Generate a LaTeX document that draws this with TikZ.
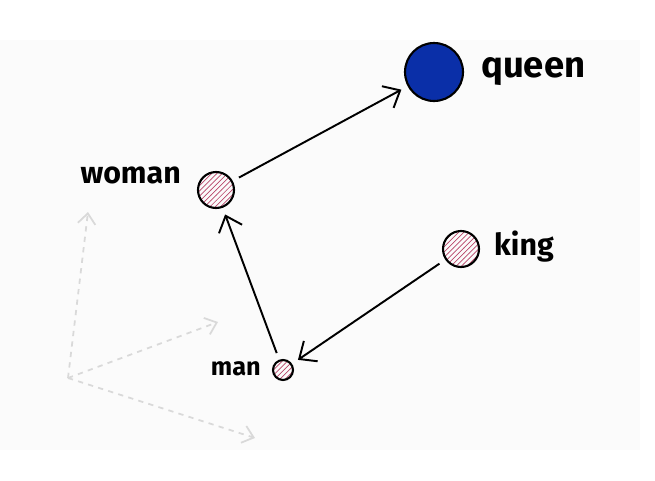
\documentclass[tikz,border=0pt]{standalone}
\usepackage{fontspec}
\setmainfont{Fira Sans}
\usetikzlibrary{arrows.meta,patterns}
\definecolor{hatch}{HTML}{B8466A}
\definecolor{qblue}{HTML}{0A2FA8}
\tikzset{
  word/.style={circle,draw,line width=1.2pt,pattern={north east lines},pattern color=hatch,inner sep=0pt},
  lbl/.style={font=\LARGE\bfseries},
  vec/.style={line width=1.1pt,-{Straight Barb[length=8pt,width=14pt]},shorten <=4pt,shorten >=4pt},
  axis/.style={gray!30,line width=1pt,dashed,-{Straight Barb[length=6pt,width=10pt]}}
}
\begin{document}
\begin{tikzpicture}[x=0.02cm,y=-0.02cm]
  \useasboundingbox (0,0) rectangle (655,480);
  \fill[gray!3] (0,40) rectangle (640,450);
  %% axes
  \coordinate (o) at (68,378);
  \coordinate (ax1) at (88,212);
  \coordinate (ax2) at (218,322);
  \coordinate (ax3) at (255,438);
  \draw[axis] (o) -- (ax1);
  \draw[axis] (o) -- (ax2);
  \draw[axis] (o) -- (ax3);
  %% words
  \node[circle,draw,line width=1.2pt,fill=qblue,minimum size=1.16cm] (queen) at (434,72) {};
  \node[word,minimum size=0.72cm] (woman) at (216,190) {};
  \node[word,minimum size=0.72cm] (king) at (461,249) {};
  \node[word,minimum size=0.4cm] (man) at (283,370) {};
  \node[font=\huge\bfseries,right] at (475,72) {queen};
  \node[lbl,left] at (187,175) {woman};
  \node[lbl,right] at (488,247) {king};
  \node[font=\Large\bfseries,left] at (267,369) {man};
  %% vectors
  \draw[vec] (woman) -- (queen);
  \draw[vec] (king) -- (man);
  \draw[vec] (man) -- (woman);
\end{tikzpicture}
\end{document}
